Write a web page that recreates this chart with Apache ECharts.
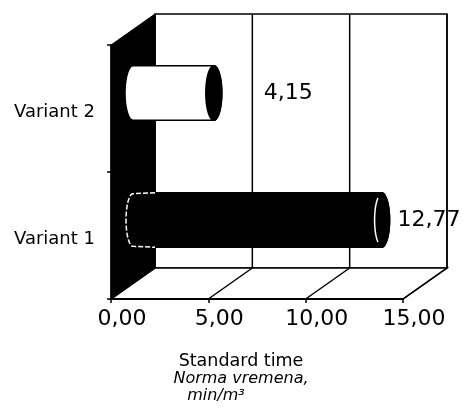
<!DOCTYPE html>
<html>
<head>
<meta charset="utf-8">
<script src="https://cdn.jsdelivr.net/npm/echarts@6/dist/echarts.min.js"></script>
<style>
html, body { margin: 0; padding: 0; background: #fff; }
#chart { width: 463px; height: 413px; }
</style>
</head>
<body>
<div id="chart"></div>
<script>
// data
var categories = ['Variant 1', 'Variant 2'];
var times = [12.77, 4.15];
var xTicks = [0, 5, 10, 15];

var chart = echarts.init(document.getElementById('chart'));

// depth of the 3D box (px)
var DX = 44, DY = -31;
var FONT = 'DejaVu Sans';
var bodyFill = ['#000', '#fff']; // per category
var labelGap = [8, 42];          // label distance from the cap

// points on an ellipse, angles in degrees
function ellipse(cx, cy, rx, ry, a0, a1, n) {
	var pts = [];
	n = n || 24;
	for (var k = 0; k <= n; k++) {
		var a = (a0 + (a1 - a0) * k / n) * Math.PI / 180;
		pts.push([cx + rx * Math.cos(a), cy + ry * Math.sin(a)]);
	}
	return pts;
}

function fmt(v) {
	return v.toFixed(2).replace('.', ',');
}

// back wall, floor, left wall
function renderFrame(params, api) {
	var cs = params.coordSys;
	var l = cs.x, t = cs.y, r = cs.x + cs.width, b = cs.y + cs.height;
	var line = { stroke: '#000', lineWidth: 1.5 };
	var children = [];
	children.push({
		type: 'rect',
		shape: { x: l + DX, y: t + DY, width: cs.width, height: cs.height },
		style: { fill: '#fff', stroke: '#000', lineWidth: 1.5 }
	});
	children.push({
		type: 'polygon',
		shape: { points: [[l, b], [r, b], [r + DX, b + DY], [l + DX, b + DY]] },
		style: { fill: '#fff', stroke: '#000', lineWidth: 1.5 }
	});
	xTicks.forEach(function(v) {
		var x = api.coord([v, 0])[0];
		children.push({ type: 'line', shape: { x1: x + DX, y1: t + DY, x2: x + DX, y2: b + DY }, style: line });
		children.push({ type: 'line', shape: { x1: x, y1: b, x2: x + DX, y2: b + DY }, style: line });
	});
	children.push({
		type: 'polygon',
		shape: { points: [[l, t], [l + DX, t + DY], [l + DX, b + DY], [l, b]] },
		style: { fill: '#000', stroke: '#000', lineWidth: 1 }
	});
	return { type: 'group', children: children };
}

// cylinders
function renderCyl(params, api) {
	var v = api.value(0), i = api.value(1);
	var p0 = api.coord([0, i]);
	var p1 = api.coord([v, i]);
	var band = api.size([0, 1])[1];
	var ry = band * 0.215, rx = 8;
	var cx0 = p0[0] + DX / 2, cx1 = p1[0] + DX / 2, cy = p0[1] + DY / 2;
	var dark = bodyFill[i] === '#000';
	var body = ellipse(cx0, cy, rx, ry, 270, 90).concat(ellipse(cx1, cy, rx, ry, 90, -90));
	var children = [{
		type: 'polygon',
		shape: { points: body },
		style: { fill: bodyFill[i], stroke: '#000', lineWidth: 1.5 }
	}, {
		type: 'polygon',
		shape: { points: ellipse(cx1, cy, rx, ry, 0, 360, 40) },
		style: { fill: '#000', stroke: '#000', lineWidth: 1.5 }
	}];
	if (dark) {
		children.push({
			type: 'polyline',
			shape: { points: ellipse(cx1 - 1, cy, rx - 2, ry - 3, 115, 245) },
			style: { stroke: '#fff', lineWidth: 1.5, fill: null }
		});
		children.push({
			type: 'polyline',
			shape: { points: [[cx0 + 22, cy - ry]].concat(ellipse(cx0, cy, rx - 1, ry - 1, 270, 90)).concat([[cx0 + 22, cy + ry]]) },
			style: { stroke: '#fff', lineWidth: 1.5, fill: null, lineDash: [5, 2] }
		});
	}
	children.push({
		type: 'text',
		style: {
			text: fmt(v),
			x: cx1 + rx + labelGap[i],
			y: cy,
			fill: '#000',
			fontSize: 22,
			fontFamily: FONT,
			align: 'left',
			verticalAlign: 'middle'
		}
	});
	return { type: 'group', children: children };
}

var option = {
	animation: false,
	grid: { left: 111, top: 45, width: 292, height: 254 },
	xAxis: {
		type: 'value',
		min: 0,
		max: 15,
		interval: 5,
		z: 5,
		axisLine: { show: true, lineStyle: { color: '#000', width: 2 } },
		axisTick: { show: true, length: 4, lineStyle: { color: '#000', width: 1.5 } },
		splitLine: { show: false },
		axisLabel: {
			color: '#000',
			fontSize: 22,
			fontFamily: FONT,
			margin: 9,
			padding: [0, 0, 0, 22],
			formatter: fmt
		},
		name: '{a|Standard time}\n{b|Norma vremena,}\n{b|min/m³}{gap|}',
		nameLocation: 'middle',
		nameGap: 54,
		nameTextStyle: {
			padding: [0, 32, 0, 0],
			rich: {
				a: { fontSize: 17.5, fontFamily: FONT, color: '#000', lineHeight: 17 },
				b: { fontSize: 16, fontFamily: FONT, fontStyle: 'italic', color: '#000', lineHeight: 17 },
				gap: { width: 50, lineHeight: 17 }
			}
		}
	},
	yAxis: {
		type: 'category',
		data: categories,
		z: 5,
		axisLine: { show: true, lineStyle: { color: '#000', width: 1.5 } },
		axisTick: { show: true, length: 4, lineStyle: { color: '#000', width: 1.5 } },
		axisLabel: {
			color: '#000',
			fontSize: 18,
			fontFamily: FONT,
			margin: 16,
			verticalAlign: 'top',
			lineHeight: 8
		}
	},
	series: [{
		type: 'custom',
		name: 'frame',
		z: 1,
		silent: true,
		renderItem: renderFrame,
		data: [[0, 0]]
	}, {
		type: 'custom',
		name: 'Standard time',
		z: 3,
		renderItem: renderCyl,
		encode: { x: 0, y: 1 },
		data: times.map(function(v, i) { return [v, i]; })
	}]
};

chart.setOption(option);
</script>
</body>
</html>
